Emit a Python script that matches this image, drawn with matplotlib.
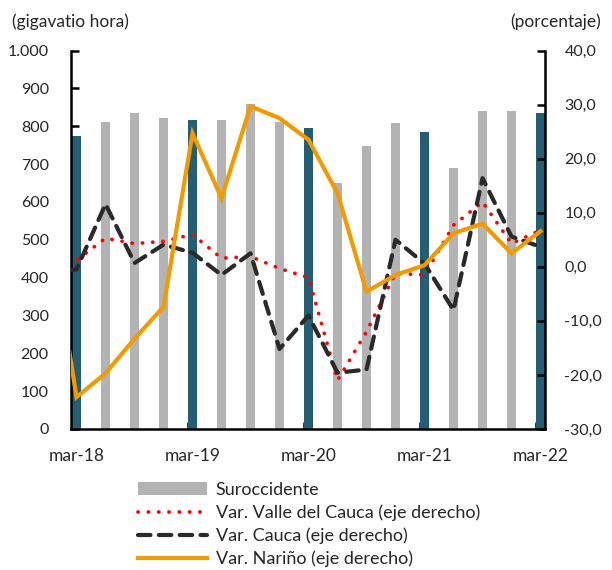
import matplotlib
matplotlib.use("Agg")
import matplotlib.pyplot as plt
from matplotlib.patches import Patch
import numpy as np

plt.rcParams['font.family'] = ['Lato', 'DejaVu Sans']

quarters = ['mar-18', 'jun-18', 'sep-18', 'dic-18', 'mar-19', 'jun-19', 'sep-19', 'dic-19',
            'mar-20', 'jun-20', 'sep-20', 'dic-20', 'mar-21', 'jun-21', 'sep-21', 'dic-21', 'mar-22']
suroccidente = [774, 810, 834, 821, 817, 817, 858, 810, 795, 649, 748, 808, 784, 689, 841, 841, 834]

# line series include the previous quarter (dic-17), which falls outside the visible range
line_quarters = ['dic-17'] + quarters
var_valle = [0.5, 1.2, 5.3, 4.3, 4.7, 6.0, 1.6, 1.9, -0.3, -2.0, -21.0, -12.0, -1.2, -1.5, 7.7, 12.0, 4.3, 6.8]
var_cauca = [-1.0, -0.5, 11.6, 0.7, 4.1, 2.6, -1.5, 2.5, -15.2, -9.0, -19.6, -19.0, 5.0, 0.6, -8.0, 16.4, 5.6, 3.7]
var_narino = [10.0, -24.1, -19.7, -13.3, -7.4, 24.7, 12.7, 29.7, 27.5, 23.5, 13.6, -4.6, -1.5, 0.3, 6.2, 8.0, 2.5, 6.6]

tick_labels = ['mar-18', 'mar-19', 'mar-20', 'mar-21', 'mar-22']

x = np.arange(len(quarters))
xl = np.arange(-1, len(quarters))
GREY = '#B3B3B3'
TEAL = '#255E72'
bar_colors = [TEAL if q.startswith('mar') else GREY for q in quarters]

fig = plt.figure(figsize=(6.12, 5.70), dpi=100)
ax = fig.add_axes([71/612, 1-429/570, (545-71)/612, (429-50.6)/570])
ax2 = ax.twinx()

ax.bar(x, suroccidente, width=0.31, color=bar_colors, zorder=2)
ax.set_xlim(-0.19, 16.155)
ax.set_ylim(0, 1000)

l_valle, = ax2.plot(xl, var_valle, color='#FF0000', lw=2.7, linestyle=(0, (0.05, 2.7)),
                    dash_capstyle='round', zorder=3)
l_cauca, = ax2.plot(xl, var_cauca, color='#2a2a2a', lw=3.0, linestyle=(0, (3.0, 2.0)),
                    dash_capstyle='round', zorder=3)
l_narino, = ax2.plot(xl, var_narino, color='#F39A00', lw=3.0, solid_joinstyle='miter', zorder=4)
ax2.set_ylim(-30, 40)
ax2.set_xlim(-0.19, 16.155)

for a in (ax, ax2):
    a.spines['top'].set_visible(False)
    for s in ('left', 'right', 'bottom'):
        a.spines[s].set_linewidth(1.8)
        a.spines[s].set_color('black')
ax.spines['right'].set_visible(False)
ax2.spines['left'].set_visible(False)
ax2.spines['bottom'].set_visible(False)

ax.set_yticks(np.arange(0, 1001, 100))
ax.set_yticklabels([f"{v:,}".replace(',', '.') for v in range(0, 1001, 100)])
ax2.set_yticks(np.arange(-30, 41, 10))
ax2.set_yticklabels([f"{v:.1f}".replace('.', ',') for v in range(-30, 41, 10)])

ax.tick_params(axis='y', direction='in', length=6, width=1.8, pad=16,
               labelsize=11.5, labelcolor='#262626')
ax2.tick_params(axis='y', direction='in', length=6, width=1.8, pad=14,
                labelsize=11.5, labelcolor='#262626')

tick_pos = [i for i, q in enumerate(quarters) if q in tick_labels]
ax.set_xticks(tick_pos)
ax.set_xticklabels(tick_labels)
ax.tick_params(axis='x', length=0, pad=14, labelsize=12.5, labelcolor='#262626')
ax.set_xticks([p - 0.15 for p in tick_pos], minor=True)
ax.tick_params(axis='x', which='minor', direction='in', length=5, width=1.8)

fig.text(12/612, 1-22/570, '(gigavatio hora)', fontsize=12.5, color='#262626', va='center', ha='left')
fig.text(601/612, 1-22/570, '(porcentaje)', fontsize=12.5, color='#262626', va='center', ha='right')

handles = [Patch(facecolor=GREY, edgecolor='none'), l_valle, l_cauca, l_narino]
labels = ['Suroccidente', 'Var. Valle del Cauca (eje derecho)',
          'Var. Cauca (eje derecho)', 'Var. Nariño (eje derecho)']
fig.legend(handles, labels, loc='upper left', bbox_to_anchor=(138/612, 1-482/570),
           frameon=False, fontsize=13, handlelength=3.8, handletextpad=0.5,
           labelspacing=0.36, borderpad=0, borderaxespad=0, labelcolor='#262626')

fig.savefig('out.png', dpi=100)
